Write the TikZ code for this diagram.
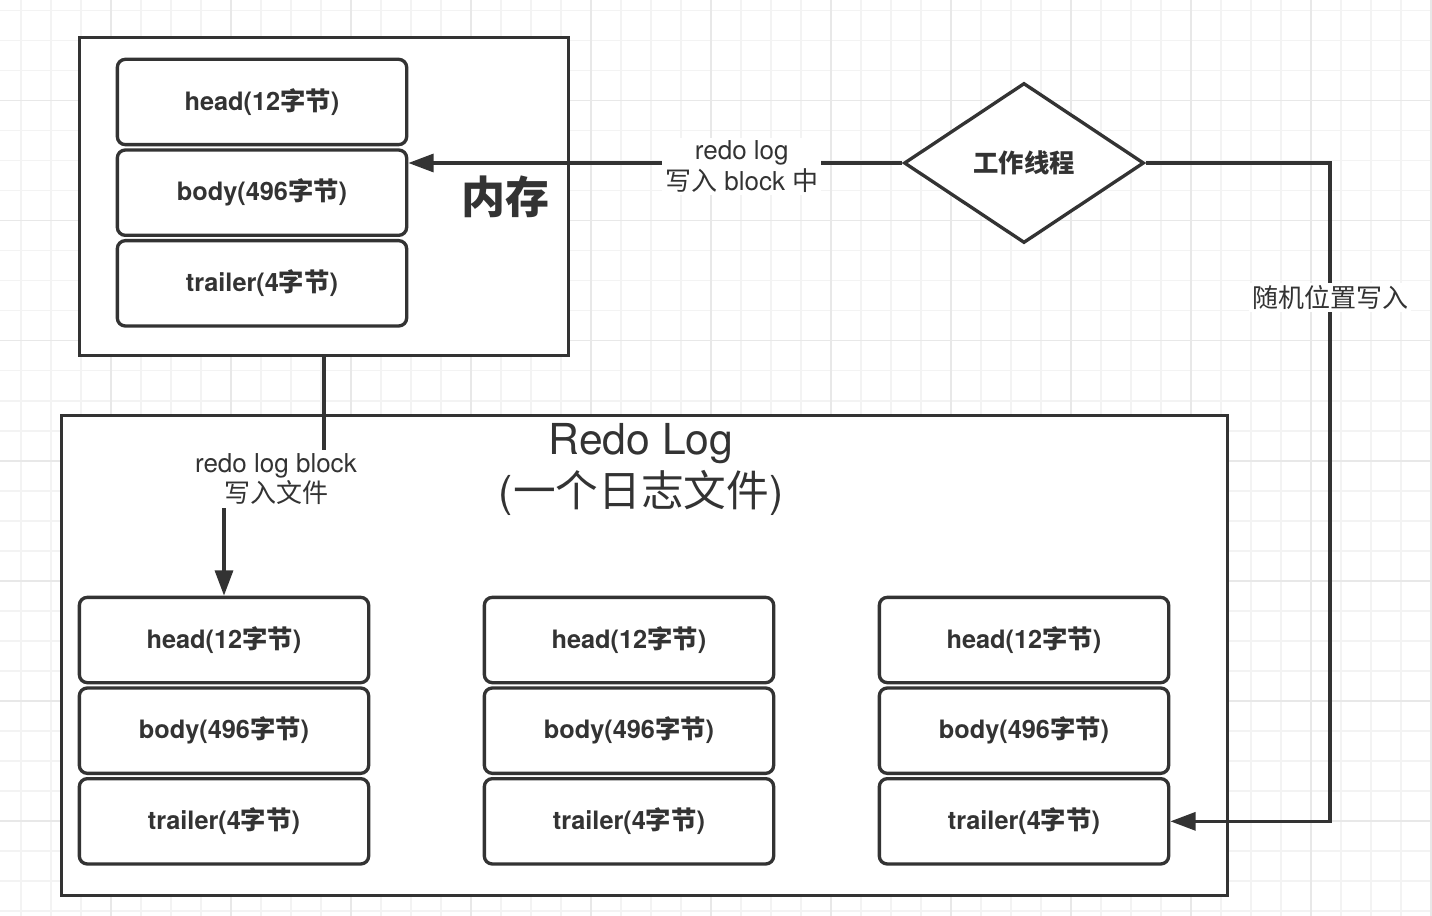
\documentclass[tikz,border=0pt]{standalone}
\usepackage{fontspec}
\setmainfont{TeX Gyre Heros}
\newfontfamily\cjk{Noto Sans CJK SC}
\newcommand{\zh}[1]{{\cjk #1}}
\usepackage{tikz}
\usetikzlibrary{positioning}
\usetikzlibrary{shapes.geometric}
\usetikzlibrary{arrows.meta}
\definecolor{ink}{HTML}{333333}
\definecolor{gridminor}{HTML}{F3F3F3}
\definecolor{gridmajor}{HTML}{E8E8E8}
\tikzset{
  field/.style={draw=ink, line width=2.5pt, rounded corners=6pt, fill=white, text=ink,
    minimum width=217pt, minimum height=64pt, inner sep=0pt,
    font=\fontsize{19pt}{21pt}\selectfont\bfseries},
  frame/.style={draw=ink, line width=2.5pt, fill=white, inner sep=0pt},
  tag/.style={fill=white, text=ink, align=center, inner sep=2pt,
    font=\fontsize{19.5pt}{23pt}\selectfont},
  flow/.style={draw=ink, line width=2.5pt, -{Triangle[length=19pt,width=13.5pt]}},
}

\begin{document}
\begin{tikzpicture}[x=0.75pt, y=-0.75pt]
\useasboundingbox (0,0) rectangle (1432,916);
\fill [white] (0,0) rectangle (1432,916);

% grid
\foreach \x in {20.7,50.7,...,1432} \draw [gridminor, line width=1.2pt] (\x,0) -- (\x,916);
\foreach \y in {10.7,40.7,...,916} \draw [gridminor, line width=1.2pt] (0,\y) -- (1432,\y);
\foreach \x in {110.7,230.7,...,1432} \draw [gridmajor, line width=1.2pt] (\x,0) -- (\x,916);
\foreach \y in {100.7,220.7,...,916} \draw [gridmajor, line width=1.2pt] (0,\y) -- (1432,\y);

% Memory
\node [frame, minimum width=366.75pt, minimum height=238.5pt] at (324,196.5) (mem) {};
\node [field] at (262,102) (mhead) {head(12\zh{字节})};
\node [field, below=1.5pt of mhead] (mbody) {body(496\zh{字节})};
\node [field, below=1.5pt of mbody] (mtrailer) {trailer(4\zh{字节})};
\node [text=ink, font=\fontsize{33pt}{36pt}\selectfont\bfseries] at (505,197) (memlabel) {\zh{内存}};

% Worker thread
\node [diamond, draw=ink, line width=2.5pt, fill=white, text=ink, inner sep=0pt,
  minimum width=180pt, minimum height=120pt,
  font=\fontsize{19pt}{20pt}\selectfont\bfseries] at (1024,163) (thread) {\zh{工作线程}};

% Redo log file
\node [frame, minimum width=874.5pt, minimum height=360pt] at (644.5,655.5) (file) {};
\node [text=ink, align=center, font=\fontsize{32pt}{39pt}\selectfont] at (641,469) (filelabel) {Redo Log\\(\zh{一个日志文件})};

% Blocks in the file
\node [field] at (224,640) (1head) {head(12\zh{字节})};
\node [field, below=1.5pt of 1head] (1body) {body(496\zh{字节})};
\node [field, below=1.5pt of 1body] (1trailer) {trailer(4\zh{字节})};
\node [field] at (629,640) (2head) {head(12\zh{字节})};
\node [field, below=1.5pt of 2head] (2body) {body(496\zh{字节})};
\node [field, below=1.5pt of 2body] (2trailer) {trailer(4\zh{字节})};
\node [field] at (1024,640) (3head) {head(12\zh{字节})};
\node [field, below=1.5pt of 3head] (3body) {body(496\zh{字节})};
\node [field, below=1.5pt of 3body] (3trailer) {trailer(4\zh{字节})};

% Connections
\draw [flow] (thread.west) -- node [tag, pos=0.325, yshift=-2.5pt] (writelabel) {redo log\\\zh{写入} block \zh{中}} (thread.west -| mbody.east);
\coordinate (corner) at (1330,163);
\draw [flow] (thread.east) -- (corner) |- node [tag, pos=0.102] (randlabel) {\zh{随机位置写入}} (3trailer.east);
\coordinate (drop) at (324,479);
\draw [flow] (mem.south) -- (drop) -| (1head.north);
\node [tag] at (276,479) (flushlabel) {redo log block\\\zh{写入文件}};

\end{tikzpicture}
\end{document}
